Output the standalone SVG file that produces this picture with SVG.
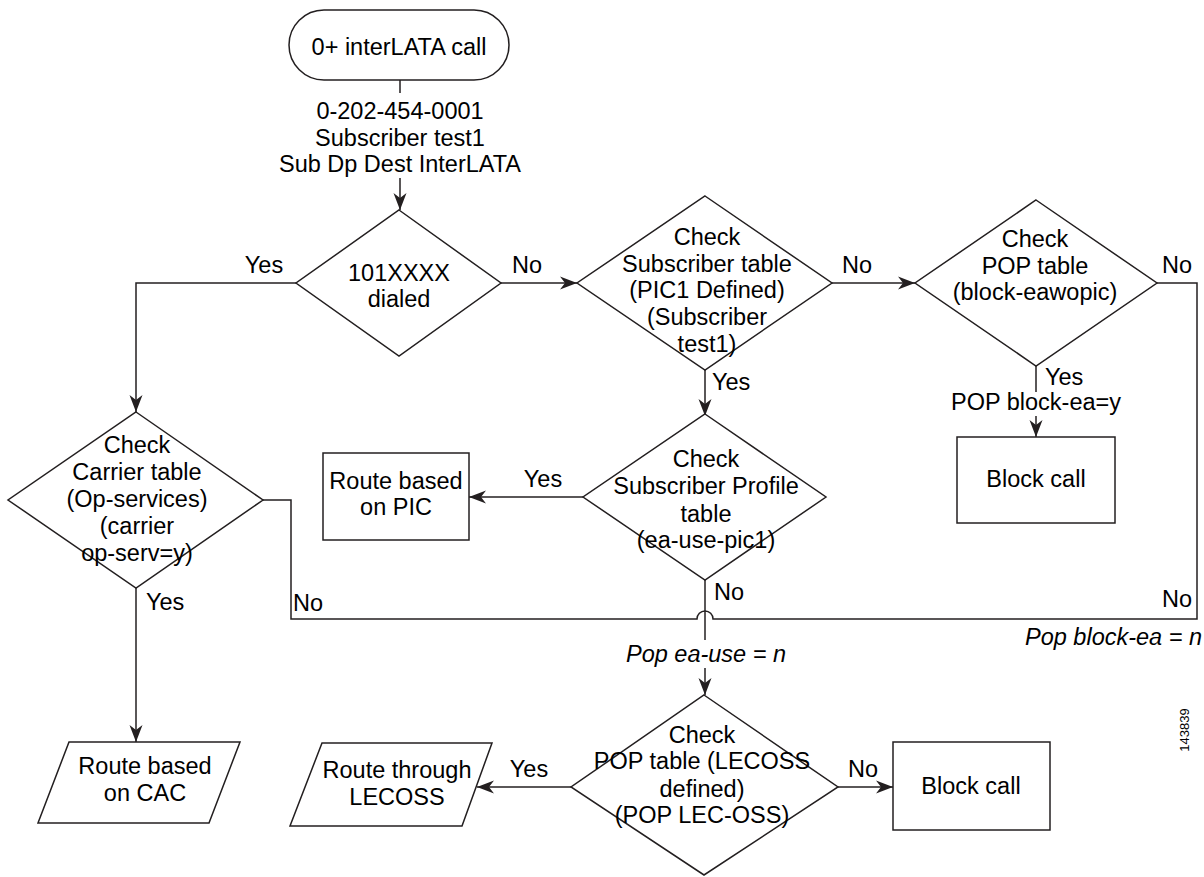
<svg xmlns="http://www.w3.org/2000/svg" width="1204" height="877" viewBox="0 0 1204 877">
<style>
.s{fill:#fff;stroke:#231f20;stroke-width:1.5}
.c{fill:none;stroke:#231f20;stroke-width:1.5}
text{font-family:"Liberation Sans",Arial,sans-serif;font-size:23.5px;fill:#000}
.m{text-anchor:middle}
.i{font-style:italic}
</style>
<defs>
<marker id="ah" markerUnits="userSpaceOnUse" markerWidth="20" markerHeight="14" viewBox="0 -7 18 14" refX="17" refY="0" orient="auto">
<path d="M0,-6.5 L17,0 L0,6.5 L5,0 z" fill="#231f20"/>
</marker>
</defs>
<g id="connectors">
<path class="c" d="M400,80 V93"/>
<path class="c" d="M400,178 V210" marker-end="url(#ah)"/>
<path class="c" d="M296,283 H136 V412" marker-end="url(#ah)"/>
<path class="c" d="M501,283 H577" marker-end="url(#ah)"/>
<path class="c" d="M832,283 H915" marker-end="url(#ah)"/>
<path class="c" d="M705,370 V416" marker-end="url(#ah)"/>
<path class="c" d="M1036,366 V392"/>
<path class="c" d="M1036,416 V437" marker-end="url(#ah)"/>
<path class="c" d="M583,497 H469" marker-end="url(#ah)"/>
<path class="c" d="M263,500 H291 V619 H697 A8,8 0 0 1 713,619 H1197 V283 H1157"/>
<path class="c" d="M705,580 V640"/>
<path class="c" d="M705,668 V695" marker-end="url(#ah)"/>
<path class="c" d="M136,588 V742" marker-end="url(#ah)"/>
<path class="c" d="M571,787 H477" marker-end="url(#ah)"/>
<path class="c" d="M838,787 H893" marker-end="url(#ah)"/>
</g>
<g id="labels">
<text x="400" y="119" class="m">0-202-454-0001</text>
<text x="400" y="146" class="m">Subscriber test1</text>
<text x="400" y="172" class="m">Sub Dp Dest InterLATA</text>
<text x="264" y="273" class="m">Yes</text>
<text x="527" y="273" class="m">No</text>
<text x="857" y="273" class="m">No</text>
<text x="1177" y="273" class="m">No</text>
<text x="712" y="390">Yes</text>
<text x="1045" y="385">Yes</text>
<text x="1036" y="410" class="m">POP block-ea=y</text>
<text x="543" y="487" class="m">Yes</text>
<text x="146" y="610">Yes</text>
<text x="293" y="611">No</text>
<text x="714" y="600">No</text>
<text x="1162" y="607">No</text>
<text x="706" y="662" class="m i">Pop ea-use = n</text>
<text x="1025" y="645" class="i">Pop block-ea = n</text>
<text x="529" y="777" class="m">Yes</text>
<text x="863" y="777" class="m">No</text>
<text transform="translate(1189,730) rotate(-90)" class="m" style="font-size:13px">143839</text>
</g>
<g id="start">
<rect class="s" x="289" y="10" width="220" height="70" rx="35" ry="35"/>
<text x="399" y="55" class="m">0+ interLATA call</text>
</g>
<g id="d-101xxxx">
<polygon class="s" points="399,210 501,283 399,356 296,283"/>
<text x="399" y="281" class="m">101XXXX</text>
<text x="399" y="307" class="m">dialed</text>
</g>
<g id="d-subscriber">
<polygon class="s" points="705,196 832,283 705,370 577,283"/>
<text x="707" y="245" class="m">Check</text>
<text x="707" y="272" class="m">Subscriber table</text>
<text x="707" y="298" class="m">(PIC1 Defined)</text>
<text x="707" y="325" class="m">(Subscriber</text>
<text x="707" y="352" class="m">test1)</text>
</g>
<g id="d-pop-block">
<polygon class="s" points="1036,200 1157,283 1036,366 915,283"/>
<text x="1035" y="247" class="m">Check</text>
<text x="1035" y="274" class="m">POP table</text>
<text x="1035" y="300" class="m">(block-eawopic)</text>
</g>
<g id="block-call-1">
<rect class="s" x="957" y="437" width="158" height="86"/>
<text x="1036" y="487" class="m">Block call</text>
</g>
<g id="d-carrier">
<polygon class="s" points="136,412 263,500 136,588 8,500"/>
<text x="137" y="453" class="m">Check</text>
<text x="137" y="480" class="m">Carrier table</text>
<text x="137" y="507" class="m">(Op-services)</text>
<text x="137" y="534" class="m">(carrier</text>
<text x="137" y="561" class="m">op-serv=y)</text>
</g>
<g id="route-pic">
<rect class="s" x="323" y="453" width="146" height="87"/>
<text x="396" y="489" class="m">Route based</text>
<text x="396" y="515" class="m">on PIC</text>
</g>
<g id="d-sub-profile">
<polygon class="s" points="705,414 826,497 705,580 583,497"/>
<text x="706" y="467" class="m">Check</text>
<text x="706" y="494" class="m">Subscriber Profile</text>
<text x="706" y="522" class="m">table</text>
<text x="706" y="548" class="m">(ea-use-pic1)</text>
</g>
<g id="route-cac">
<polygon class="s" points="69,742 240,742 209,823 38,823"/>
<text x="145" y="774" class="m">Route based</text>
<text x="145" y="801" class="m">on CAC</text>
</g>
<g id="route-lecoss">
<polygon class="s" points="322,743 492,743 462,826 290,826"/>
<text x="397" y="778" class="m">Route through</text>
<text x="397" y="805" class="m">LECOSS</text>
</g>
<g id="d-pop-lecoss">
<polygon class="s" points="704,695 838,787 704,875 571,787"/>
<text x="702" y="743" class="m">Check</text>
<text x="702" y="769" class="m">POP table (LECOSS</text>
<text x="702" y="797" class="m">defined)</text>
<text x="702" y="823" class="m">(POP LEC-OSS)</text>
</g>
<g id="block-call-2">
<rect class="s" x="893" y="742" width="157" height="88"/>
<text x="971" y="794" class="m">Block call</text>
</g>
</svg>
